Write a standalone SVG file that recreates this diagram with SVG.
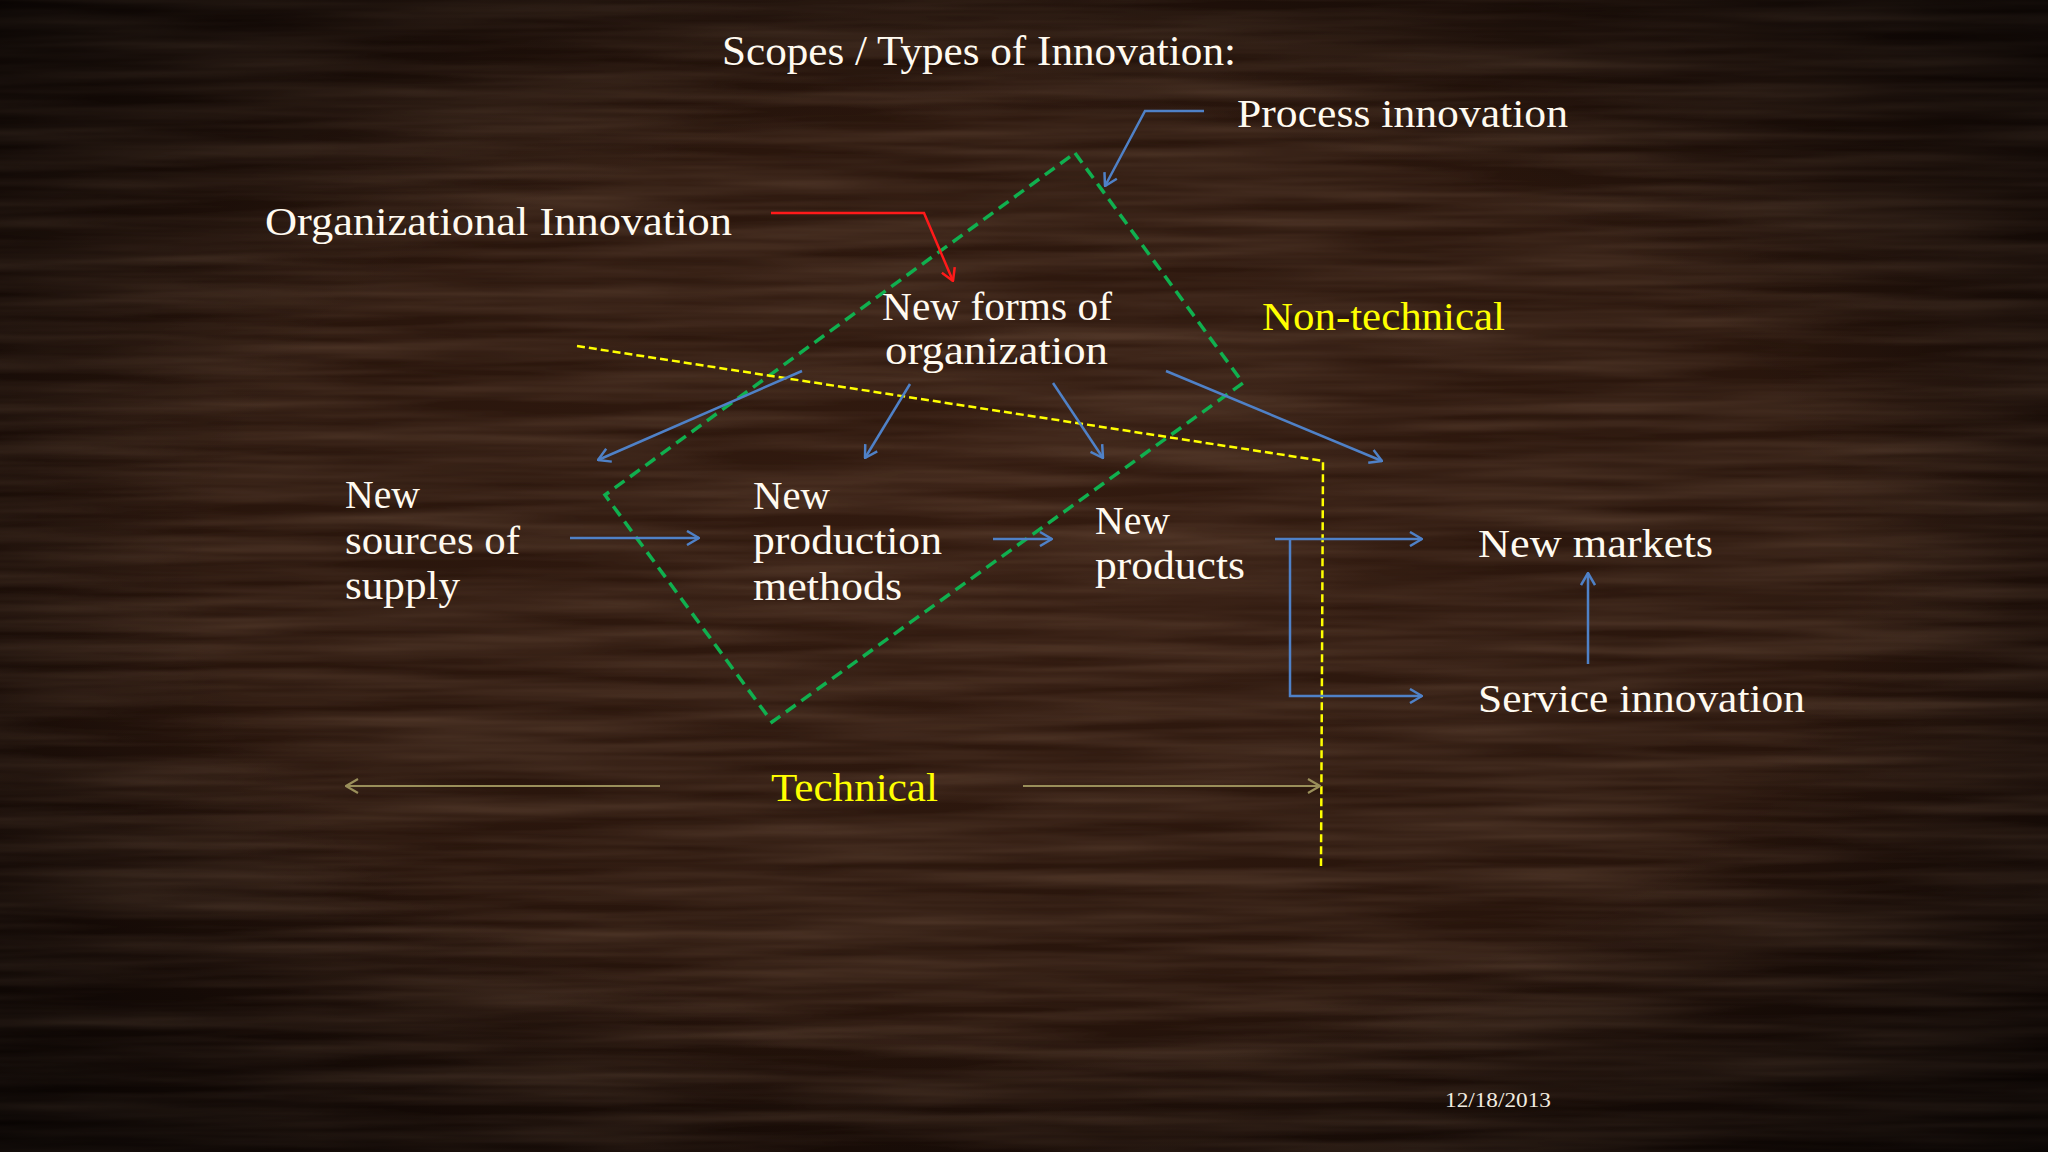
<svg xmlns="http://www.w3.org/2000/svg" width="2048" height="1152" viewBox="0 0 2048 1152">
  <defs>
    <radialGradient id="bgGrad" cx="0.5" cy="0.45" r="0.75">
      <stop offset="0" stop-color="#331b10"/>
      <stop offset="0.55" stop-color="#28150c"/>
      <stop offset="1" stop-color="#100704"/>
    </radialGradient>
    <filter id="grain" x="0" y="0" width="100%" height="100%">
      <feTurbulence type="fractalNoise" baseFrequency="0.003 0.07" numOctaves="3" seed="7" result="noise"/>
      <feColorMatrix in="noise" type="matrix" values="0 0 0 0 0.36  0 0 0 0 0.21  0 0 0 0 0.13  0 0 0 0.45 -0.12" result="tint"/>
      <feComposite in="tint" in2="SourceGraphic" operator="in"/>
    </filter>
    <marker id="arrBlue" viewBox="0 0 14 16" refX="13" refY="8" markerWidth="14" markerHeight="16" markerUnits="userSpaceOnUse" orient="auto">
      <path d="M1,1 L13,8 L1,15" fill="none" stroke="#4f81c7" stroke-width="2.5"/>
    </marker>
    <marker id="arrRed" viewBox="0 0 14 16" refX="13" refY="8" markerWidth="14" markerHeight="16" markerUnits="userSpaceOnUse" orient="auto">
      <path d="M1,1 L13,8 L1,15" fill="none" stroke="#ff1a1a" stroke-width="2.5"/>
    </marker>
    <marker id="arrOlive" viewBox="0 0 14 16" refX="13" refY="8" markerWidth="14" markerHeight="16" markerUnits="userSpaceOnUse" orient="auto">
      <path d="M1,1 L13,8 L1,15" fill="none" stroke="#9a8f5a" stroke-width="2.2"/>
    </marker>
    <radialGradient id="vign" cx="0.5" cy="0.5" r="0.72">
      <stop offset="0.55" stop-color="#000" stop-opacity="0"/>
      <stop offset="1" stop-color="#000" stop-opacity="0.6"/>
    </radialGradient>
  </defs>
  <style>
    text { font-family: "Liberation Serif", "Times New Roman", serif; fill: #fffaf0; font-size: 41px; }
    .title { font-size: 42px; }
    .yellow { fill: #ffff00; }
    .date { font-size: 20px; fill: #f2ece0; }
    .blue { fill: none; stroke: #4f81c7; stroke-width: 2.5; marker-end: url(#arrBlue); }
    .red { fill: none; stroke: #ff1a1a; stroke-width: 2.5; marker-end: url(#arrRed); }
    .olive { fill: none; stroke: #9a8f5a; stroke-width: 2.2; marker-end: url(#arrOlive); }
    .green { fill: none; stroke: #10b04f; stroke-width: 3.5; stroke-dasharray: 12 7; }
    .ydash { fill: none; stroke: #ffff00; stroke-width: 2.5; stroke-dasharray: 8 4; }
  </style>

  <!-- background -->
  <rect width="2048" height="1152" fill="url(#bgGrad)"/>
  <rect width="2048" height="1152" fill="#fff" filter="url(#grain)"/>
  <rect width="2048" height="1152" fill="url(#vign)"/>

  <!-- regions / boundaries -->
  <g id="process-region">
    <polygon class="green" points="1075,153 1243,383 772,722 605,495"/>
  </g>
  <g id="boundary">
    <polyline class="ydash" points="577,346 1323,461 1321,866"/>
  </g>

  <!-- connectors -->
  <g id="connectors">
    <polyline class="blue" points="1204,111 1145,111 1105,186"/>
    <polyline class="red" points="771,213 924,213 953,281"/>
    <line class="blue" x1="802" y1="371" x2="598" y2="460"/>
    <line class="blue" x1="910" y1="384" x2="865" y2="458"/>
    <line class="blue" x1="1053" y1="383" x2="1103" y2="458"/>
    <line class="blue" x1="1166" y1="371" x2="1382" y2="461"/>
    <line class="blue" x1="570" y1="538" x2="699" y2="538"/>
    <line class="blue" x1="993" y1="539" x2="1052" y2="539"/>
    <line class="blue" x1="1275" y1="539" x2="1422" y2="539"/>
    <polyline class="blue" points="1290,539 1290,696 1422,696"/>
    <line class="blue" x1="1588" y1="664" x2="1588" y2="573"/>
    <line class="olive" x1="660" y1="786" x2="346" y2="786"/>
    <line class="olive" x1="1023" y1="786" x2="1320" y2="786"/>
  </g>

  <!-- nodes -->
  <g id="title"><text class="title" x="722" y="65" textLength="514" lengthAdjust="spacingAndGlyphs">Scopes / Types of Innovation:</text></g>
  <g id="process-innovation"><text x="1237" y="127" textLength="331" lengthAdjust="spacingAndGlyphs">Process innovation</text></g>
  <g id="organizational-innovation"><text x="265" y="235" textLength="467" lengthAdjust="spacingAndGlyphs">Organizational Innovation</text></g>
  <g id="new-forms-of-organization">
    <text x="882" y="320" textLength="230" lengthAdjust="spacingAndGlyphs">New forms of</text>
    <text x="885" y="364" textLength="223" lengthAdjust="spacingAndGlyphs">organization</text>
  </g>
  <g id="non-technical"><text class="yellow" x="1262" y="330" textLength="243" lengthAdjust="spacingAndGlyphs">Non-technical</text></g>
  <g id="new-sources-of-supply">
    <text x="345" y="508" textLength="75" lengthAdjust="spacingAndGlyphs">New</text>
    <text x="345" y="554" textLength="175" lengthAdjust="spacingAndGlyphs">sources of</text>
    <text x="345" y="599" textLength="115" lengthAdjust="spacingAndGlyphs">supply</text>
  </g>
  <g id="new-production-methods">
    <text x="753" y="509" textLength="77" lengthAdjust="spacingAndGlyphs">New</text>
    <text x="753" y="554" textLength="189" lengthAdjust="spacingAndGlyphs">production</text>
    <text x="753" y="600" textLength="149" lengthAdjust="spacingAndGlyphs">methods</text>
  </g>
  <g id="new-products">
    <text x="1095" y="534" textLength="75" lengthAdjust="spacingAndGlyphs">New</text>
    <text x="1095" y="579" textLength="150" lengthAdjust="spacingAndGlyphs">products</text>
  </g>
  <g id="new-markets"><text x="1478" y="557" textLength="235" lengthAdjust="spacingAndGlyphs">New markets</text></g>
  <g id="service-innovation"><text x="1478" y="712" textLength="327" lengthAdjust="spacingAndGlyphs">Service innovation</text></g>
  <g id="technical"><text class="yellow" x="771" y="801" textLength="167" lengthAdjust="spacingAndGlyphs">Technical</text></g>
  <g id="date"><text class="date" x="1445" y="1107" textLength="106" lengthAdjust="spacingAndGlyphs">12/18/2013</text></g>
</svg>
